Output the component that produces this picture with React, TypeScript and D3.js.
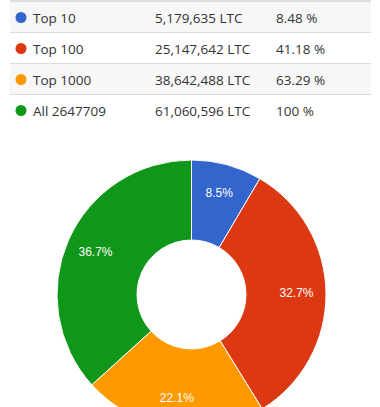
import React from "react";
import * as d3 from "d3";

const rowLabels = ["Top 10", "Top 100", "Top 1000", "All 2647709"];
const rowAmounts = ["5,179,635 LTC", "25,147,642 LTC", "38,642,488 LTC", "61,060,596 LTC"];
const rowPercents = ["8.48 %", "41.18 %", "63.29 %", "100 %"];
const colors = ["#3366cc", "#dc3912", "#ff9900", "#109618"];
const cumulative = [5179635, 25147642, 38642488, 61060596];

export default function App() {
  const W = 380, H = 407;
  const tableX0 = 10, tableX1 = 371;
  const rowH = 31;
  const top = 2;
  const slices = cumulative.map((v, i) => v - (i > 0 ? cumulative[i - 1] : 0));
  const total = cumulative[cumulative.length - 1];
  const pie = d3.pie<number>().sort(null).value((d) => d)(slices);
  const cx = 191.5, cy = 294.5, R = 134.5, r0 = 54.5;
  const arc = d3.arc<d3.PieArcDatum<number>>().innerRadius(r0).outerRadius(R);
  const labelR = 105;
  return (
    <svg width={W} height={H} style={{ position: "absolute", left: 0, top: 0, background: "#fff" }}>
      <rect x={tableX0} y={0} width={tableX1 - tableX0} height={2} fill="#dedede" />
      {rowLabels.map((lab, i) => {
        const y = top + i * rowH;
        const cyRow = y + rowH / 2;
        return (
          <g key={lab}>
            {i % 2 === 0 && <rect x={tableX0} y={y} width={tableX1 - tableX0} height={rowH} fill="#f7f7f7" />}
            {i < rowLabels.length - 1 && (
              <rect x={tableX0} y={y + rowH - 1} width={tableX1 - tableX0} height={1} fill="#dcdcdc" />
            )}
            <circle cx={21} cy={cyRow} r={5.5} fill={colors[i]} />
            <g fontFamily="'Open Sans', 'Noto Sans', sans-serif" fontSize={13.5} fill="#333">
              <text x={33} y={cyRow + 5}>{lab}</text>
              <text x={155} y={cyRow + 5}>{rowAmounts[i]}</text>
              <text x={276} y={cyRow + 5}>{rowPercents[i]}</text>
            </g>
          </g>
        );
      })}
      <g transform={`translate(${cx},${cy})`}>
        {pie.map((p, i) => (
          <path key={i} d={arc(p) || ""} fill={colors[i]} stroke="#fff" strokeWidth={1} />
        ))}
        {pie.map((p, i) => {
          const a = (p.startAngle + p.endAngle) / 2;
          const x = Math.sin(a) * labelR;
          const y = -Math.cos(a) * labelR;
          return (
            <text key={"l" + i} x={x} y={y + 4} textAnchor="middle" fill="#fff"
              fontFamily="'Liberation Sans', Arial, sans-serif" fontSize={12}>
              {((p.value / total) * 100).toFixed(1) + "%"}
            </text>
          );
        })}
      </g>
    </svg>
  );
}
